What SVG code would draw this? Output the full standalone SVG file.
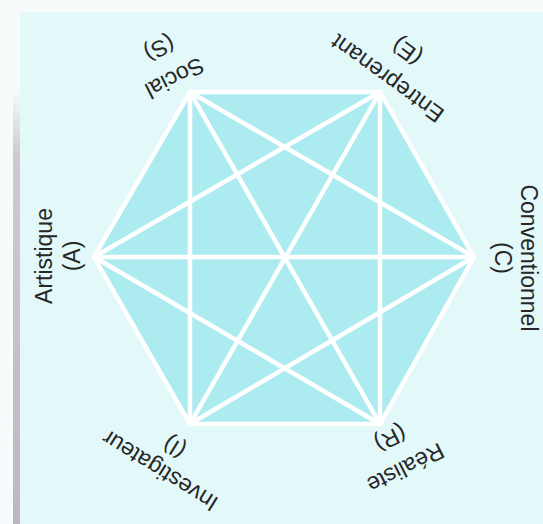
<svg xmlns="http://www.w3.org/2000/svg" width="543" height="524" viewBox="0 0 543 524">
<defs>
<style>
.lbl{font-family:"Liberation Sans",Arial,sans-serif;font-size:23px;fill:#262626;text-anchor:middle}
.edge{stroke:#ffffff;stroke-width:4.5;stroke-linecap:round;fill:none}
</style>
<linearGradient id="strip" x1="0" y1="0" x2="0" y2="1">
<stop offset="0" stop-color="#c9c4c9" stop-opacity="0"/>
<stop offset="0.15" stop-color="#c9c4c9" stop-opacity="0.9"/>
<stop offset="1" stop-color="#bdb8bd" stop-opacity="1"/>
</linearGradient>
</defs>
<rect x="0" y="0" width="543" height="524" fill="#f7fbfb"/>
<rect x="20" y="12" width="523" height="512" fill="#e3f8f9"/>
<rect x="13" y="90" width="7" height="434" fill="url(#strip)"/>
<polygon id="hexagon" points="190,92 380,92 474,257 380,424 190,424 94,257" fill="#acecf1"/>
<g id="connectors" class="edge">
<polygon points="190,92 380,92 474,257 380,424 190,424 94,257"/>
<line x1="190" y1="92" x2="474" y2="257"/>
<line x1="190" y1="92" x2="380" y2="424"/>
<line x1="190" y1="92" x2="190" y2="424"/>
<line x1="380" y1="92" x2="380" y2="424"/>
<line x1="380" y1="92" x2="190" y2="424"/>
<line x1="380" y1="92" x2="94" y2="257"/>
<line x1="474" y1="257" x2="190" y2="424"/>
<line x1="474" y1="257" x2="94" y2="257"/>
<line x1="380" y1="424" x2="94" y2="257"/>
</g>
<g id="node-S" transform="translate(171,71) rotate(153)">
<text class="lbl" x="0" y="0">Social</text>
<text class="lbl" x="0" y="33">(S)</text>
</g>
<g id="node-E" transform="translate(392,72) rotate(216)">
<text class="lbl" x="0" y="0">Entreprenant</text>
<text class="lbl" x="0" y="33">(E)</text>
</g>
<g id="node-C" transform="translate(521,258) rotate(90)">
<text class="lbl" x="0" y="0">Conventionnel</text>
<text class="lbl" x="0" y="26">(C)</text>
</g>
<g id="node-R" transform="translate(402,461) rotate(153)">
<text class="lbl" x="0" y="0">Réaliste</text>
<text class="lbl" x="0" y="33">(R)</text>
</g>
<g id="node-I" transform="translate(164,464) rotate(212)">
<text class="lbl" x="0" y="0">Investigateur</text>
<text class="lbl" x="0" y="27">(I)</text>
</g>
<g id="node-A" transform="translate(52,256) rotate(-90)">
<text class="lbl" x="0" y="0">Artistique</text>
<text class="lbl" x="0" y="28">(A)</text>
</g>
</svg>
